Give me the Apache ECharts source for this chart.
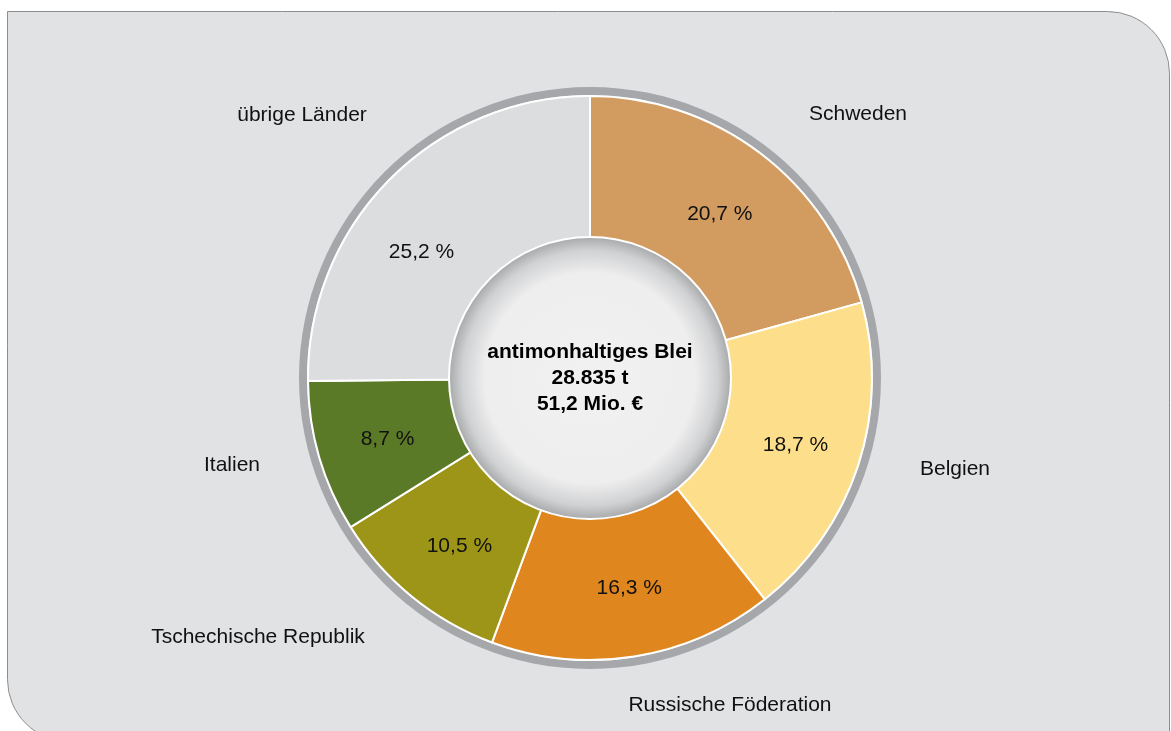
<!DOCTYPE html>
<html>
<head>
<meta charset="utf-8">
<style>
  html, body { margin: 0; padding: 0; background: #fff; }
  #chart { width: 1171px; height: 731px; }
</style>
<script src="https://cdn.jsdelivr.net/npm/echarts@6/dist/echarts.min.js"></script>
</head>
<body>
<div id="chart"></div>
<script>
// Herkunftsländer antimonhaltiges Blei (Anteile in %)
const countries = ['Schweden', 'Belgien', 'Russische Föderation', 'Tschechische Republik', 'Italien', 'übrige Länder']
const shares = [20.7, 18.7, 16.3, 10.5, 8.7, 25.2]
const centerLines = ['antimonhaltiges Blei', '28.835 t', '51,2 Mio. €']

const colors = ['#d29c61', '#fddf8b', '#e0861f', '#9d9518', '#5b7a27', '#dcdddf']
// where the country names sit (label centres)
const namePos = [[858, 114], [955, 469], [730, 705], [258, 637], [232, 465], [302, 115]]
// small nudges for the percentage labels
const pctShift = [[1, 6], [3, 1], [6, 0], [4, 3], [2, 2], [-17, 24]]

const center = [590, 378]
const fmt = v => String(v).replace('.', ',') + ' %'

const chart = echarts.init(document.getElementById('chart'), null, { renderer: 'canvas' })

chart.setOption({
  animation: false,
  textStyle: { fontFamily: '"Liberation Sans", Arial, sans-serif' },
  graphic: [{
    type: 'rect',
    z: -10,
    silent: true,
    shape: { x: 7.5, y: 11.5, width: 1162, height: 730, r: [0, 62, 0, 62] },
    style: { fill: '#e1e2e4', stroke: '#8d8d8d', lineWidth: 1 }
  }],
  series: [
    { // grey outer ring
      type: 'pie',
      silent: true,
      center: center,
      radius: [283, 291],
      label: { show: false },
      labelLine: { show: false },
      itemStyle: { color: '#a6a7aa' },
      data: [{ value: 1 }]
    },
    { // slices with percentages
      type: 'pie',
      silent: true,
      center: center,
      radius: [138, 282],
      startAngle: 90,
      clockwise: true,
      avoidLabelOverlap: false,
      itemStyle: { borderColor: '#ffffff', borderWidth: 2 },
      label: {
        show: true,
        position: 'inside',
        color: '#111',
        fontSize: 21,
        formatter: p => fmt(p.value)
      },
      labelLine: { show: false },
      labelLayout: p => ({ dx: pctShift[p.dataIndex][0], dy: pctShift[p.dataIndex][1] }),
      data: countries.map((c, i) => ({
        name: c,
        value: shares[i],
        itemStyle: { color: colors[i] }
      }))
    },
    { // country names outside
      type: 'pie',
      silent: true,
      center: center,
      radius: [138, 282],
      startAngle: 90,
      avoidLabelOverlap: false,
      itemStyle: { color: 'transparent' },
      label: {
        show: true,
        position: 'outside',
        color: '#111',
        fontSize: 21,
        formatter: '{b}'
      },
      labelLine: { show: false },
      labelLayout: p => ({
        x: namePos[p.dataIndex][0],
        y: namePos[p.dataIndex][1],
        align: 'center',
        verticalAlign: 'middle'
      }),
      data: countries.map((c, i) => ({ name: c, value: shares[i] }))
    },
    { // centre disc
      type: 'pie',
      silent: true,
      center: center,
      radius: [0, 141],
      z: 5,
      itemStyle: {
        borderColor: '#ffffff',
        borderWidth: 2,
        color: new echarts.graphic.RadialGradient(0.5, 0.5, 0.5, [
          { offset: 0, color: '#f1f1f1' },
          { offset: 0.74, color: '#eeeeee' },
          { offset: 0.9, color: '#d0d1d3' },
          { offset: 1, color: '#a5a6a8' }
        ])
      },
      label: {
        show: true,
        position: 'center',
        color: '#000',
        fontSize: 21,
        fontWeight: 'bold',
        lineHeight: 26,
        formatter: centerLines.join('\n')
      },
      labelLine: { show: false },
      data: [{ value: 1, name: 'center' }]
    }
  ]
})
</script>
</body>
</html>
